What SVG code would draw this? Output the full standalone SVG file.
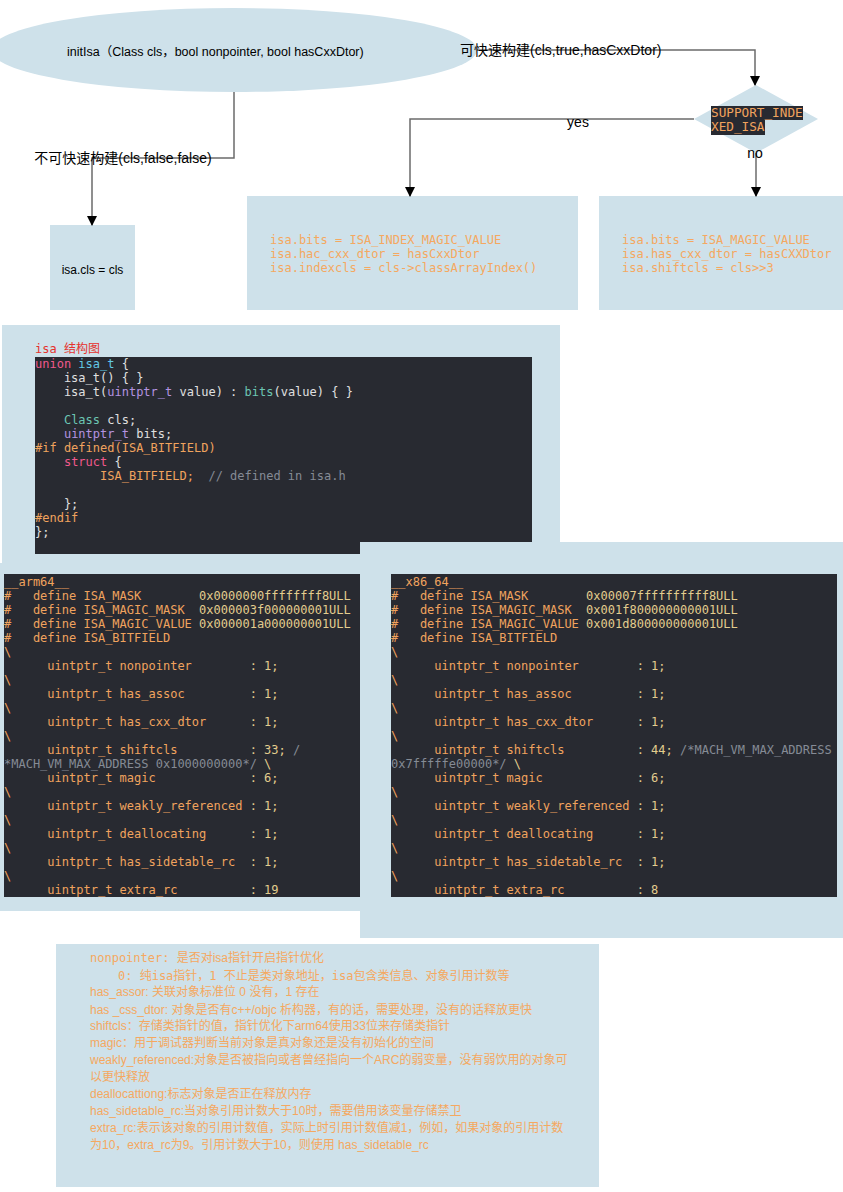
<svg xmlns="http://www.w3.org/2000/svg" width="843" height="1192" viewBox="0 0 843 1192">
<style>
.bg{fill:#cee1ea}
.dark{fill:#282a31}
.mono{font-family:"DejaVu Sans Mono","Noto Sans CJK SC",monospace;font-size:12px;white-space:pre}
.o{fill:#f0a35e}.k{fill:#e3cd8e}.g{fill:#858b95}.w{fill:#e0e0e0}.p{fill:#f0598c}.c{fill:#62c8e6}.u{fill:#b493e0}.t{fill:#6cc6b4}.r{fill:#e5322d}
.lbl{font-family:"Liberation Sans","Noto Sans CJK SC",sans-serif;font-size:14px;fill:#000}
.sm{font-family:"Liberation Sans","Noto Sans CJK SC",sans-serif;font-size:12.5px;fill:#000}
.box{font-family:"DejaVu Sans Mono",monospace;font-size:12px;fill:#f5a860;white-space:pre}
.note{font-family:"Liberation Sans","Noto Sans CJK SC",sans-serif;font-size:12px;fill:#f5a860;white-space:pre}
.edge{fill:none;stroke:#6b6b6b;stroke-width:1.5}
</style>
<defs>
<marker id="arr" markerUnits="userSpaceOnUse" markerWidth="10" markerHeight="11" refX="9" refY="5" orient="auto">
<path d="M0,0 L10,5 L0,10 z" fill="#000"/>
</marker>
</defs>

<g id="start">
<ellipse class="bg" cx="234" cy="50" rx="243" ry="42"/>
<text class="sm" x="67" y="56">initIsa（Class cls，bool nonpointer, bool hasCxxDtor)</text>
</g>

<g id="decision">
<polygon class="bg" points="756,85 818,119 756,153 694,119"/>
<rect class="dark" x="711" y="106" width="92" height="14"/>
<rect class="dark" x="711" y="120" width="54" height="15"/>
<text class="mono o" style="font-size:12.7px" x="711" y="117">SUPPORT_INDE</text>
<text class="mono o" style="font-size:12.7px" x="711" y="131">XED_ISA</text>
</g>

<g id="slow">
<rect class="bg" x="50" y="225" width="85" height="85"/>
<text class="sm" style="font-size:12px" x="92.5" y="274" text-anchor="middle">isa.cls = cls</text>
</g>

<g id="indexed">
<rect class="bg" x="247" y="196" width="331" height="114"/>
<text class="box" x="270" y="244">isa.bits = ISA_INDEX_MAGIC_VALUE</text>
<text class="box" x="270" y="258">isa.hac_cxx_dtor = hasCxxDtor</text>
<text class="box" x="270" y="272">isa.indexcls = cls-&gt;classArrayIndex()</text>
</g>

<g id="nonindexed">
<rect class="bg" x="599" y="196" width="244" height="114"/>
<text class="box" x="622" y="244">isa.bits = ISA_MAGIC_VALUE</text>
<text class="box" x="622" y="258">isa.has_cxx_dtor = hasCXXDtor</text>
<text class="box" x="622" y="272">isa.shiftcls = cls&gt;&gt;3</text>
</g>

<g id="connectors">
<polyline class="edge" points="234,92 234,158 92,158 92,225" marker-end="url(#arr)"/>
<polyline class="edge" points="477,50 755,50 755,85" marker-end="url(#arr)"/>
<polyline class="edge" points="694,119 410,119 410,196" marker-end="url(#arr)"/>
<polyline class="edge" points="756,153 756,196" marker-end="url(#arr)"/>
<text class="lbl" x="123" y="163" text-anchor="middle">不可快速构建(cls,false,false)</text>
<text class="lbl" x="460" y="55">可快速构建(cls,true,hasCxxDtor)</text>
<text class="lbl" x="578" y="127" text-anchor="middle">yes</text>
<text class="lbl" x="755" y="158" text-anchor="middle">no</text>
</g>

<g id="isa-struct">
<rect class="bg" x="2" y="325" width="558" height="238"/>
<rect class="dark" x="35" y="357" width="497" height="197"/>
<text class="mono r" x="35" y="353">isa 结构图</text>
<text class="mono" x="35" y="368"><tspan class="p">union</tspan><tspan class="w"> </tspan><tspan class="c">isa_t</tspan><tspan class="w"> {</tspan></text>
<text class="mono w" x="35" y="382">    isa_t() { }</text>
<text class="mono" x="35" y="396"><tspan class="w">    isa_t(</tspan><tspan class="u">uintptr_t</tspan><tspan class="w"> value) : </tspan><tspan class="t">bits</tspan><tspan class="w">(value) { }</tspan></text>
<text class="mono" x="35" y="424"><tspan class="w">    </tspan><tspan class="t">Class</tspan><tspan class="w"> cls;</tspan></text>
<text class="mono" x="35" y="438"><tspan class="w">    </tspan><tspan class="u">uintptr_t</tspan><tspan class="w"> bits;</tspan></text>
<text class="mono o" x="35" y="452">#if defined(ISA_BITFIELD)</text>
<text class="mono" x="35" y="466"><tspan class="w">    </tspan><tspan class="p">struct</tspan><tspan class="w"> {</tspan></text>
<text class="mono" x="35" y="480"><tspan class="o">         ISA_BITFIELD;</tspan><tspan class="g">  // defined in isa.h</tspan></text>
<text class="mono w" x="35" y="508">    };</text>
<text class="mono o" x="35" y="522">#endif</text>
<text class="mono w" x="35" y="536">};</text>
</g>

<g id="arm64">
<rect class="bg" x="0" y="563" width="362" height="348"/>
<rect class="dark" x="4" y="574" width="356" height="323"/>
<text class="mono o" x="4" y="586">__arm64__</text>
<text class="mono" x="4" y="600"><tspan class="o">#   define ISA_MASK        </tspan><tspan class="k">0x0000000ffffffff8ULL</tspan></text>
<text class="mono" x="4" y="614"><tspan class="o">#   define ISA_MAGIC_MASK  </tspan><tspan class="k">0x000003f000000001ULL</tspan></text>
<text class="mono" x="4" y="628"><tspan class="o">#   define ISA_MAGIC_VALUE </tspan><tspan class="k">0x000001a000000001ULL</tspan></text>
<text class="mono o" x="4" y="642">#   define ISA_BITFIELD</text>
<text class="mono o" x="4" y="656">\</text>
<text class="mono" x="4" y="670"><tspan class="o">      uintptr_t nonpointer        </tspan><tspan class="k">: 1;</tspan></text>
<text class="mono o" x="4" y="684">\</text>
<text class="mono" x="4" y="698"><tspan class="o">      uintptr_t has_assoc         </tspan><tspan class="k">: 1;</tspan></text>
<text class="mono o" x="4" y="712">\</text>
<text class="mono" x="4" y="726"><tspan class="o">      uintptr_t has_cxx_dtor      </tspan><tspan class="k">: 1;</tspan></text>
<text class="mono o" x="4" y="740">\</text>
<text class="mono" x="4" y="754"><tspan class="o">      uintptr_t shiftcls          </tspan><tspan class="k">: 33;</tspan><tspan class="g"> /</tspan></text>
<text class="mono" x="4" y="768"><tspan class="g">*MACH_VM_MAX_ADDRESS 0x1000000000*/</tspan><tspan class="k"> \</tspan></text>
<text class="mono" x="4" y="782"><tspan class="o">      uintptr_t magic             </tspan><tspan class="k">: 6;</tspan></text>
<text class="mono o" x="4" y="796">\</text>
<text class="mono" x="4" y="810"><tspan class="o">      uintptr_t weakly_referenced </tspan><tspan class="k">: 1;</tspan></text>
<text class="mono o" x="4" y="824">\</text>
<text class="mono" x="4" y="838"><tspan class="o">      uintptr_t deallocating      </tspan><tspan class="k">: 1;</tspan></text>
<text class="mono o" x="4" y="852">\</text>
<text class="mono" x="4" y="866"><tspan class="o">      uintptr_t has_sidetable_rc  </tspan><tspan class="k">: 1;</tspan></text>
<text class="mono o" x="4" y="880">\</text>
<text class="mono" x="4" y="894"><tspan class="o">      uintptr_t extra_rc          </tspan><tspan class="k">: 19</tspan></text>
</g>

<g id="x86_64">
<rect class="bg" x="360" y="542" width="483" height="396"/>
<rect class="dark" x="391" y="574" width="446" height="323"/>
<text class="mono o" x="391" y="586">__x86_64__</text>
<text class="mono" x="391" y="600"><tspan class="o">#   define ISA_MASK        </tspan><tspan class="k">0x00007ffffffffff8ULL</tspan></text>
<text class="mono" x="391" y="614"><tspan class="o">#   define ISA_MAGIC_MASK  </tspan><tspan class="k">0x001f800000000001ULL</tspan></text>
<text class="mono" x="391" y="628"><tspan class="o">#   define ISA_MAGIC_VALUE </tspan><tspan class="k">0x001d800000000001ULL</tspan></text>
<text class="mono o" x="391" y="642">#   define ISA_BITFIELD</text>
<text class="mono o" x="391" y="656">\</text>
<text class="mono" x="391" y="670"><tspan class="o">      uintptr_t nonpointer        </tspan><tspan class="k">: 1;</tspan></text>
<text class="mono o" x="391" y="684">\</text>
<text class="mono" x="391" y="698"><tspan class="o">      uintptr_t has_assoc         </tspan><tspan class="k">: 1;</tspan></text>
<text class="mono o" x="391" y="712">\</text>
<text class="mono" x="391" y="726"><tspan class="o">      uintptr_t has_cxx_dtor      </tspan><tspan class="k">: 1;</tspan></text>
<text class="mono o" x="391" y="740">\</text>
<text class="mono" x="391" y="754"><tspan class="o">      uintptr_t shiftcls          </tspan><tspan class="k">: 44;</tspan><tspan class="g"> /*MACH_VM_MAX_ADDRESS</tspan></text>
<text class="mono" x="391" y="768"><tspan class="g">0x7fffffe00000*/</tspan><tspan class="k"> \</tspan></text>
<text class="mono" x="391" y="782"><tspan class="o">      uintptr_t magic             </tspan><tspan class="k">: 6;</tspan></text>
<text class="mono o" x="391" y="796">\</text>
<text class="mono" x="391" y="810"><tspan class="o">      uintptr_t weakly_referenced </tspan><tspan class="k">: 1;</tspan></text>
<text class="mono o" x="391" y="824">\</text>
<text class="mono" x="391" y="838"><tspan class="o">      uintptr_t deallocating      </tspan><tspan class="k">: 1;</tspan></text>
<text class="mono o" x="391" y="852">\</text>
<text class="mono" x="391" y="866"><tspan class="o">      uintptr_t has_sidetable_rc  </tspan><tspan class="k">: 1;</tspan></text>
<text class="mono o" x="391" y="880">\</text>
<text class="mono" x="391" y="894"><tspan class="o">      uintptr_t extra_rc          </tspan><tspan class="k">: 8</tspan></text>
</g>

<g id="notes">
<rect class="bg" x="56" y="944" width="543" height="243"/>
<text class="note" x="90" y="962"><tspan style="font-family:'DejaVu Sans Mono',monospace">nonpointer: </tspan>是否对isa指针开启指针优化</text>
<text class="note" style="font-family:'DejaVu Sans Mono','Noto Sans CJK SC',monospace" x="118" y="979.5">0: 纯isa指针，1 不止是类对象地址，isa包含类信息、对象引用计数等</text>
<text class="note" x="90" y="996">has_assor: 关联对象标准位 0 没有，1 存在</text>
<text class="note" x="90" y="1013.5">has _css_dtor: 对象是否有c++/objc 析构器，有的话，需要处理，没有的话释放更快</text>
<text class="note" x="90" y="1030">shiftcls：存储类指针的值，指针优化下arm64使用33位来存储类指针</text>
<text class="note" x="90" y="1047">magic：用于调试器判断当前对象是真对象还是没有初始化的空间</text>
<text class="note" x="90" y="1064">weakly_referenced:对象是否被指向或者曾经指向一个ARC的弱变量，没有弱饮用的对象可</text>
<text class="note" x="90" y="1081">以更快释放</text>
<text class="note" x="90" y="1098">deallocattiong:标志对象是否正在释放内存</text>
<text class="note" x="90" y="1115">has_sidetable_rc:当对象引用计数大于10时，需要借用该变量存储禁卫</text>
<text class="note" x="90" y="1132">extra_rc:表示该对象的引用计数值，实际上时引用计数值减1，例如，如果对象的引用计数</text>
<text class="note" x="90" y="1149">为10，extra_rc为9。引用计数大于10，则使用 has_sidetable_rc</text>
</g>
</svg>
